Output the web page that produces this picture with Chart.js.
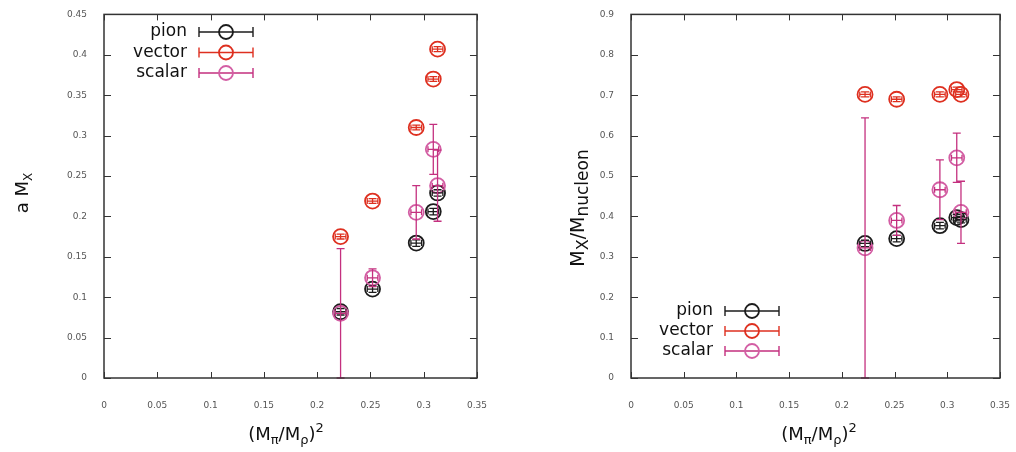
<!DOCTYPE html>
<html>
<head>
<meta charset="utf-8">
<script src="https://cdn.jsdelivr.net/npm/chart.js@4.4.0/dist/chart.umd.min.js"></script>
<style>
  body { margin: 0; background: #fff; width: 1016px; height: 452px; position: relative; overflow: hidden; }
  canvas { position: absolute; top: 0; }
</style>
</head>
<body>
<canvas id="amxChart" width="501" height="452" style="left:0"></canvas>
<canvas id="ratioChart" width="504" height="452" style="left:520px"></canvas>
<script>
// (M_pi/M_rho)^2 for the five ensembles
const xVals = [0.222, 0.252, 0.293, 0.309, 0.313];
const xErr = [0.005, 0.005, 0.005, 0.005, 0.005];

// lattice units, a M_X
const pionAM = [0.082, 0.110, 0.167, 0.206, 0.229];
const pionAMErr = [0.004, 0.004, 0.004, 0.004, 0.004];
const vectorAM = [0.175, 0.219, 0.310, 0.370, 0.407];
const vectorAMErr = [0.003, 0.003, 0.003, 0.003, 0.003];
const scalarAM = [0.080, 0.124, 0.205, 0.283, 0.238];
const scalarAMErr = [0.080, 0.011, 0.033, 0.031, 0.044];

// ratio to the nucleon mass
const pionRatio = [0.333, 0.345, 0.377, 0.397, 0.392];
const pionRatioErr = [0.008, 0.008, 0.008, 0.008, 0.008];
const vectorRatio = [0.702, 0.690, 0.702, 0.714, 0.702];
const vectorRatioErr = [0.006, 0.006, 0.006, 0.006, 0.006];
const scalarRatio = [0.322, 0.390, 0.466, 0.545, 0.410];
const scalarRatioErr = [0.322, 0.037, 0.074, 0.061, 0.077];

const seriesNames = ['pion', 'vector', 'scalar'];

const COLORS = {
  pion: '#1c1c1c',
  vector: '#de3020',
  scalar: '#d35ea4',
  scalarErr: '#c4307f',
  axis: '#333',
  tick: '#555'
};
const FONT = "'DejaVu Sans', sans-serif";

function points(ys, yErrs) {
  return xVals.map((x, i) => ({ x: x, y: ys[i], xe: xErr[i], ye: yErrs[i] }));
}

// gnuplot style tick text: 0.4 not 0.40
const tickFmt = v => String(+v.toFixed(2));

// error bars drawn through the chart's own scales
const errorBars = {
  id: 'errorBars',
  afterDatasetsDraw(chart) {
    const { ctx, chartArea, scales: { x, y } } = chart;
    ctx.save();
    ctx.beginPath();
    ctx.rect(chartArea.left, chartArea.top, chartArea.right - chartArea.left, chartArea.bottom - chartArea.top + 1);
    ctx.clip();
    chart.data.datasets.forEach(ds => {
      ctx.strokeStyle = ds.errColor || ds.borderColor;
      ctx.lineWidth = 1.3;
      ds.data.forEach(p => {
        const px = x.getPixelForValue(p.x);
        const py = y.getPixelForValue(p.y);
        const cap = 4;
        ctx.beginPath();
        if (p.ye) {
          const top = y.getPixelForValue(p.y + p.ye);
          const bot = y.getPixelForValue(p.y - p.ye);
          ctx.moveTo(px, top); ctx.lineTo(px, bot);
          ctx.moveTo(px - cap, top); ctx.lineTo(px + cap, top);
          ctx.moveTo(px - cap, bot); ctx.lineTo(px + cap, bot);
        }
        if (p.xe) {
          const l = x.getPixelForValue(p.x - p.xe);
          const r = x.getPixelForValue(p.x + p.xe);
          ctx.moveTo(l, py); ctx.lineTo(r, py);
          ctx.moveTo(l, py - 3); ctx.lineTo(l, py + 3);
          ctx.moveTo(r, py - 3); ctx.lineTo(r, py + 3);
        }
        ctx.stroke();
      });
    });
    ctx.restore();
  }
};

// gnuplot-like frame with inward ticks
const frame = {
  id: 'frame',
  afterDraw(chart) {
    const { ctx, chartArea: a, scales: { x, y } } = chart;
    ctx.save();
    ctx.strokeStyle = COLORS.axis;
    ctx.lineWidth = 1.5;
    ctx.strokeRect(a.left, a.top, a.right - a.left, a.bottom - a.top);
    ctx.lineWidth = 1;
    ctx.beginPath();
    x.ticks.forEach(t => {
      const px = Math.round(x.getPixelForValue(t.value)) + 0.5;
      ctx.moveTo(px, a.bottom); ctx.lineTo(px, a.bottom - 6);
      ctx.moveTo(px, a.top); ctx.lineTo(px, a.top + 6);
    });
    y.ticks.forEach(t => {
      const py = Math.round(y.getPixelForValue(t.value)) + 0.5;
      ctx.moveTo(a.left, py); ctx.lineTo(a.left + 7, py);
      ctx.moveTo(a.right, py); ctx.lineTo(a.right - 7, py);
    });
    ctx.stroke();
    ctx.restore();
  }
};

function drawParts(ctx, parts, cx, cy, rot) {
  ctx.save();
  ctx.translate(cx, cy);
  if (rot) ctx.rotate(rot);
  let w = 0;
  parts.forEach(p => { ctx.font = p.size + 'px ' + FONT; p.w = ctx.measureText(p.t).width; w += p.w; });
  let xx = -w / 2;
  ctx.fillStyle = '#111';
  ctx.textBaseline = 'alphabetic';
  parts.forEach(p => {
    ctx.font = p.size + 'px ' + FONT;
    ctx.fillText(p.t, xx, (p.dy || 0) + 6);
    xx += p.w;
  });
  ctx.restore();
}

const titles = {
  id: 'titles',
  afterDraw(chart, args, opts) {
    const ctx = chart.ctx;
    drawParts(ctx, opts.yParts, opts.yPos[0], opts.yPos[1], -Math.PI / 2);
    drawParts(ctx, opts.xParts, opts.xPos[0], opts.xPos[1], 0);
  }
};

// legend rows: name, then error bar with circle
const errLegend = {
  id: 'errLegend',
  afterDraw(chart, args, opts) {
    const ctx = chart.ctx;
    chart.data.datasets.forEach((ds, i) => {
      const yy = opts.top + i * opts.gap;
      ctx.save();
      ctx.font = '17px ' + FONT;
      ctx.fillStyle = '#111';
      ctx.textAlign = 'right';
      ctx.textBaseline = 'middle';
      ctx.fillText(ds.label, opts.textRight, yy);
      ctx.strokeStyle = ds.errColor || ds.borderColor;
      ctx.lineWidth = 1.4;
      const l = opts.textRight + 12, r = l + 54, c = (l + r) / 2;
      ctx.beginPath();
      ctx.moveTo(l, yy); ctx.lineTo(r, yy);
      ctx.moveTo(l, yy - 5); ctx.lineTo(l, yy + 5);
      ctx.moveTo(r, yy - 5); ctx.lineTo(r, yy + 5);
      ctx.stroke();
      ctx.strokeStyle = ds.borderColor;
      ctx.lineWidth = 1.8;
      ctx.beginPath();
      ctx.arc(c, yy, 7, 0, Math.PI * 2);
      ctx.stroke();
      ctx.restore();
    });
  }
};

function makeChart(id, data, yMax, yStep, layout, titleOpts, legendOpts) {
  const ds = (label, d, color, errColor, order) => ({
    label: label,
    data: d,
    borderColor: color,
    backgroundColor: 'rgba(0,0,0,0)',
    errColor: errColor,
    pointRadius: 7.5,
    pointHoverRadius: 7.5,
    borderWidth: 1.8,
    showLine: false,
    order: order
  });
  return new Chart(document.getElementById(id), {
    type: 'scatter',
    data: {
      datasets: [
        ds(seriesNames[0], data[0], COLORS.pion, COLORS.pion, 3),
        ds(seriesNames[1], data[1], COLORS.vector, COLORS.vector, 2),
        ds(seriesNames[2], data[2], COLORS.scalar, COLORS.scalarErr, 1)
      ]
    },
    options: {
      responsive: false,
      animation: false,
      devicePixelRatio: 1,
      layout: { padding: { top: 5, right: layout.padRight, left: 0, bottom: 0 } },
      plugins: {
        legend: { display: false },
        tooltip: { enabled: false },
        titles: titleOpts,
        errLegend: legendOpts
      },
      scales: {
        x: {
          type: 'linear',
          min: 0, max: 0.35,
          ticks: { stepSize: 0.05, callback: tickFmt, color: COLORS.tick, font: { size: 9, family: FONT }, padding: 14, maxRotation: 0 },
          grid: { display: false },
          border: { display: false },
          afterFit: s => { s.height = 74; }
        },
        y: {
          type: 'linear',
          min: 0, max: yMax,
          ticks: { stepSize: yStep, callback: tickFmt, color: COLORS.tick, font: { size: 9, family: FONT }, padding: 9 },
          grid: { display: false },
          border: { display: false },
          afterFit: s => { s.width = layout.yWidth; }
        }
      }
    },
    plugins: [errorBars, frame, titles, errLegend]
  });
}

const xTitle = [
  { t: '(M', size: 18 }, { t: '\u03c0', size: 13, dy: 4 },
  { t: '/M', size: 18 }, { t: '\u03c1', size: 13, dy: 4 },
  { t: ')', size: 18 }, { t: '2', size: 13, dy: -8 }
];

makeChart('amxChart',
  [points(pionAM, pionAMErr), points(vectorAM, vectorAMErr), points(scalarAM, scalarAMErr)],
  0.45, 0.05,
  { padRight: 22, yWidth: 104 },
  { yParts: [{ t: 'a M', size: 18 }, { t: 'X', size: 12, dy: 4 }], yPos: [22, 193], xParts: xTitle, xPos: [286, 434] },
  { top: 32, gap: 20.5, textRight: 187 });

makeChart('ratioChart',
  [points(pionRatio, pionRatioErr), points(vectorRatio, vectorRatioErr), points(scalarRatio, scalarRatioErr)],
  0.9, 0.1,
  { padRight: 8, yWidth: 111 },
  { yParts: [{ t: 'M', size: 19 }, { t: 'X', size: 16, dy: 4 }, { t: '/M', size: 19 }, { t: 'nucleon', size: 17, dy: 4 }], yPos: [58, 208], xParts: xTitle, xPos: [299, 434] },
  { top: 311, gap: 20, textRight: 193 });
</script>
</body>
</html>
